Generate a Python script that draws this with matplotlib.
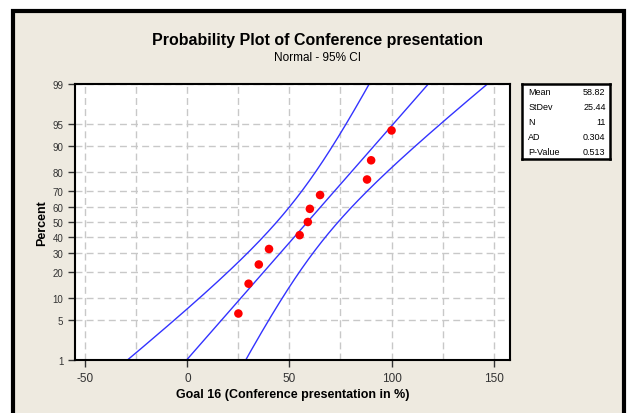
import numpy as np
import matplotlib
matplotlib.use("Agg")
import matplotlib.pyplot as plt
from matplotlib.patches import Rectangle
from statistics import NormalDist

plt.rcParams['font.family'] = ['Liberation Sans', 'DejaVu Sans']
plt.rcParams['axes.unicode_minus'] = False

# data (Goal 16, conference presentation in %)
values = [25, 30, 35, 40, 55, 59, 60, 65, 88, 90, 100]
pct_ticks = [1, 5, 10, 20, 30, 40, 50, 60, 70, 80, 90, 95, 99]
x_ticks = [-50, 0, 50, 100, 150]
stat_names = ["Mean", "StDev", "N", "AD", "P-Value"]
stat_values = ["58.82", "25.44", "11", "0.304", "0.513"]

nd = NormalDist()
inv = np.vectorize(lambda p: nd.inv_cdf(min(max(p / 100.0, 1e-9), 1 - 1e-9)), otypes=[float])
cdf = np.vectorize(lambda z: nd.cdf(z) * 100.0, otypes=[float])

x = np.sort(np.array(values, dtype=float))
n = len(x)
mean = x.mean()
sd = x.std(ddof=1)
# median ranks, like Minitab
pos = (np.arange(1, n + 1) - 0.3) / (n + 0.4) * 100

# fitted line and 95% CI
p_line = np.linspace(0.5, 99.5, 400)
z = inv(p_line)
fit = mean + z * sd
half = 1.96 * np.sqrt(sd**2 / n + z**2 * sd**2 / (2 * n))

fig = plt.figure(figsize=(6.3, 4.14), dpi=100)
fig.patch.set_facecolor("white")
frame = Rectangle((13 / 630, -0.05), 611 / 630, 1 - 12 / 414 + 0.05,
                  transform=fig.transFigure, facecolor="#EEEAE0",
                  edgecolor="black", linewidth=3, zorder=-10)
fig.add_artist(frame)

ax = fig.add_axes([75 / 630, 1 - 361 / 414, 435 / 630, 276 / 414])
ax.set_facecolor("white")
ax.set_yscale("function", functions=(inv, cdf))
ax.set_ylim(1, 99)
ax.set_xlim(-55, 158)

ax.plot(fit, p_line, color="#3333FF", lw=1)
ax.plot(fit - half, p_line, color="#3333FF", lw=1)
ax.plot(fit + half, p_line, color="#3333FF", lw=1)
ax.scatter(x, pos, s=38, color="#FF0000", zorder=5, edgecolors="none")

ax.set_yticks(pct_ticks)
ax.set_yticklabels([str(t) for t in pct_ticks])
ax.set_xticks(x_ticks)
ax.set_xticks([-25, 25, 75, 125], minor=True)
ax.yaxis.set_minor_locator(matplotlib.ticker.NullLocator())
ax.grid(True, which="both", axis="x", color="#C8C8C8", ls=(0, (5, 3)), lw=1)
ax.grid(True, which="major", axis="y", color="#C8C8C8", ls=(0, (5, 3)), lw=1)
ax.set_axisbelow(True)
ax.tick_params(axis="x", which="minor", length=0)
ax.tick_params(axis="x", which="major", labelsize=8.5, length=5, width=1, colors="#333333")
ax.tick_params(axis="y", labelsize=7, length=5, width=1, colors="#333333")
for sp in ax.spines.values():
    sp.set_linewidth(1.5)

ax.set_xlabel("Goal 16 (Conference presentation in %)", fontsize=9,
              fontweight="bold", labelpad=3)
ax.set_ylabel("Percent", fontsize=9, fontweight="bold", labelpad=3)

fig.text(318 / 630, 1 - 40 / 414, "Probability Plot of Conference presentation",
         ha="center", va="center", fontsize=11.5, fontweight="bold")
fig.text(318 / 630, 1 - 58 / 414, "Normal - 95% CI", ha="center", va="center",
         fontsize=8.5)

# stats box
box = fig.add_axes([522 / 630, 1 - 160 / 414, 88 / 630, 75 / 414])
box.set_xticks([])
box.set_yticks([])
box.set_facecolor("white")
for sp in box.spines.values():
    sp.set_linewidth(1.8)
for i, (nm, vl) in enumerate(zip(stat_names, stat_values)):
    yy = 0.9 - i * 0.2
    box.text(0.07, yy, nm, fontsize=6.5, va="center", ha="left", transform=box.transAxes)
    box.text(0.95, yy, vl, fontsize=6.5, va="center", ha="right", transform=box.transAxes)

fig.savefig("out.png", dpi=100)
